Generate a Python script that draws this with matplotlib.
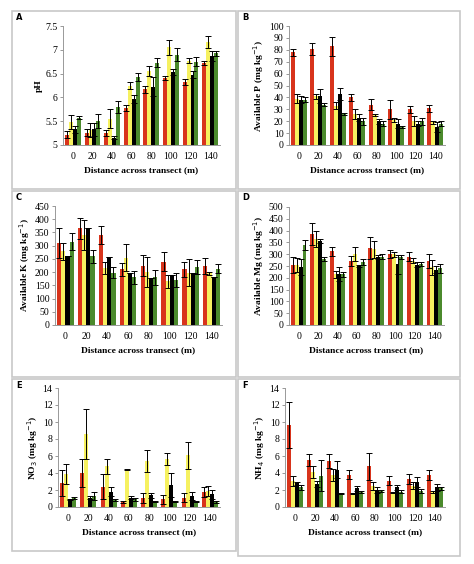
import numpy as np
import matplotlib
matplotlib.use("Agg")
import matplotlib.pyplot as plt
from matplotlib.patches import Rectangle

plt.rcParams["font.family"] = ["Liberation Serif", "DejaVu Serif"]

distances = ["0", "20", "40", "60", "80", "100", "120", "140"]
series_colors = ["#d8341c", "#f6f160", "#000000", "#4b8a2c"]

# pH
ph_red = [5.22, 5.26, 5.25, 5.78, 6.17, 6.40, 6.33, 6.73]
ph_yellow = [5.48, 5.32, 5.55, 6.25, 6.55, 7.05, 6.77, 7.17]
ph_black = [5.33, 5.33, 5.15, 5.97, 6.22, 6.53, 6.48, 6.87]
ph_green = [5.57, 5.50, 5.80, 6.43, 6.73, 6.90, 6.75, 6.93]
ph_red_err = [0.08, 0.08, 0.06, 0.06, 0.07, 0.04, 0.06, 0.04]
ph_yellow_err = [0.15, 0.15, 0.20, 0.07, 0.10, 0.15, 0.05, 0.13]
ph_black_err = [0.07, 0.14, 0.03, 0.08, 0.20, 0.06, 0.08, 0.10]
ph_green_err = [0.03, 0.15, 0.13, 0.09, 0.10, 0.13, 0.10, 0.05]

# Available P
p_red = [78, 81, 83, 40, 34, 30, 30, 31]
p_yellow = [39, 41, 33, 26, 25, 21, 20, 19]
p_black = [38, 41, 43, 23, 20, 18, 18, 15]
p_green = [38, 34, 26, 20, 18, 15, 20, 18]
p_red_err = [3, 5, 8, 3, 5, 8, 3, 3]
p_yellow_err = [4, 2, 3, 4, 1, 2, 4, 1]
p_black_err = [3, 6, 5, 3, 2, 4, 2, 4]
p_green_err = [2, 1, 1, 3, 2, 1, 3, 2]

# Available K
k_red = [310, 365, 340, 210, 225, 240, 210, 222]
k_yellow = [278, 340, 215, 255, 200, 165, 198, 195]
k_black = [262, 368, 258, 198, 176, 188, 195, 183]
k_green = [315, 260, 198, 180, 180, 170, 220, 213]
k_red_err = [55, 40, 35, 25, 40, 37, 27, 30]
k_yellow_err = [32, 57, 22, 50, 57, 25, 50, 5]
k_black_err = [0, 0, 0, 0, 0, 0, 0, 0]
k_green_err = [32, 25, 22, 25, 27, 25, 27, 18]

# Available Mg
mg_red = [255, 385, 312, 272, 325, 300, 290, 270]
mg_yellow = [255, 365, 215, 300, 320, 300, 272, 245]
mg_black = [245, 355, 215, 250, 288, 258, 255, 235]
mg_green = [338, 280, 215, 268, 290, 288, 260, 240]
mg_red_err = [35, 48, 20, 20, 47, 18, 20, 30]
mg_yellow_err = [30, 35, 15, 30, 35, 10, 10, 32]
mg_black_err = [35, 8, 30, 5, 10, 40, 10, 15]
mg_green_err = [22, 8, 10, 12, 10, 10, 8, 18]

# NO3
no3_red = [2.8, 4.0, 2.4, 0.6, 1.1, 0.9, 1.1, 1.8]
no3_yellow = [3.9, 8.6, 4.8, 4.4, 5.4, 5.6, 6.1, 1.9]
no3_black = [0.9, 1.1, 1.8, 1.1, 1.4, 2.6, 1.3, 1.5]
no3_green = [1.1, 1.3, 0.8, 0.9, 0.6, 0.6, 0.6, 0.6]
no3_red_err = [1.5, 1.6, 1.5, 0.15, 0.6, 0.5, 0.5, 0.6]
no3_yellow_err = [1.2, 2.9, 0.9, 0.05, 1.3, 0.7, 1.6, 0.6]
no3_black_err = [0.1, 0.2, 0.5, 0.2, 0.3, 1.4, 0.5, 0.5]
no3_green_err = [0.1, 0.5, 0.1, 0.2, 0.05, 0.05, 0.05, 0.1]

# NH4
nh4_red = [9.6, 5.5, 5.4, 3.8, 4.8, 3.1, 3.3, 3.8]
nh4_yellow = [3.1, 4.1, 3.8, 1.6, 2.5, 1.7, 2.5, 1.8]
nh4_black = [2.8, 2.7, 4.4, 2.2, 2.0, 2.3, 2.9, 2.3]
nh4_green = [2.3, 3.7, 1.6, 1.8, 1.9, 1.8, 1.9, 2.2]
nh4_red_err = [2.7, 0.7, 0.8, 0.5, 1.6, 0.5, 0.6, 0.6]
nh4_yellow_err = [0.6, 0.7, 0.7, 0.05, 0.5, 0.1, 0.4, 0.1]
nh4_black_err = [0.2, 0.4, 1.0, 0.3, 0.3, 0.3, 0.6, 0.4]
nh4_green_err = [0.3, 1.8, 0.05, 0.1, 0.1, 0.2, 0.2, 0.2]

panels = [
    ("A", "pH", (ph_red, ph_yellow, ph_black, ph_green),
     (ph_red_err, ph_yellow_err, ph_black_err, ph_green_err), (5, 7.5), 0.5),
    ("B", "Available P (mg kg$^{-1}$)", (p_red, p_yellow, p_black, p_green),
     (p_red_err, p_yellow_err, p_black_err, p_green_err), (0, 100), 10),
    ("C", "Available K (mg kg$^{-1}$)", (k_red, k_yellow, k_black, k_green),
     (k_red_err, k_yellow_err, k_black_err, k_green_err), (0, 450), 50),
    ("D", "Available Mg (mg kg$^{-1}$)", (mg_red, mg_yellow, mg_black, mg_green),
     (mg_red_err, mg_yellow_err, mg_black_err, mg_green_err), (0, 500), 50),
    ("E", "NO$_3$ (mg kg$^{-1}$)", (no3_red, no3_yellow, no3_black, no3_green),
     (no3_red_err, no3_yellow_err, no3_black_err, no3_green_err), (0, 14), 2),
    ("F", "NH$_4$ (mg kg$^{-1}$)", (nh4_red, nh4_yellow, nh4_black, nh4_green),
     (nh4_red_err, nh4_yellow_err, nh4_black_err, nh4_green_err), (0, 14), 2),
]

W, H = 474, 564
fig = plt.figure(figsize=(W / 100, H / 100), dpi=100)

# pixel boxes: (box_left, box_top, box_right, box_bottom), (ax_left, ax_top, ax_right, ax_bottom)
layout = [
    ((12, 11, 236, 189), (63, 26, 220, 145)),
    ((238, 11, 460, 189), (289, 26, 445, 145)),
    ((12, 191, 236, 377), (55, 206, 222, 325)),
    ((238, 191, 460, 377), (289, 207, 444, 325)),
    ((12, 379, 236, 551), (58, 388, 220, 507)),
    ((238, 379, 460, 556), (285, 388, 445, 507)),
]

x = np.arange(len(distances))
width = 0.2

for (letter, ylabel, vals, errs, ylim, step), (box, axp) in zip(panels, layout):
    bl, bt, br, bb = box
    fig.patches.append(Rectangle((bl / W, 1 - bb / H), (br - bl) / W, (bb - bt) / H,
                                 transform=fig.transFigure, fill=False,
                                 edgecolor="#c8c8c8", linewidth=1.2))
    fig.text((bl + 4) / W, 1 - (bt + 9) / H, letter, fontsize=6, fontweight="bold",
             family="DejaVu Sans")
    al, at, ar, ab = axp
    ax = fig.add_axes([al / W, 1 - ab / H, (ar - al) / W, (ab - at) / H])
    for i in range(4):
        pos = x + (i - 1.5) * width
        ax.bar(pos, vals[i], width, bottom=0, color=series_colors[i], zorder=2)
        ax.errorbar(pos, vals[i], yerr=errs[i], fmt="none", ecolor="black",
                    elinewidth=0.7, capsize=2.5, capthick=0.7, zorder=3)
    ax.set_ylim(*ylim)
    ax.set_xlim(-0.5, len(distances) - 0.5)
    ax.set_yticks(np.arange(ylim[0], ylim[1] + step / 2, step))
    if step == 0.5:
        ax.set_yticklabels([("%g" % v) for v in np.arange(ylim[0], ylim[1] + 0.25, 0.5)])
    ax.set_xticks(x)
    ax.set_xticklabels(distances)
    ax.tick_params(axis="both", labelsize=7, length=2, width=0.6, color="#888888", pad=2)
    ax.tick_params(axis="x", length=0, pad=5)
    for s in ["top", "right"]:
        ax.spines[s].set_visible(False)
    for s in ["left", "bottom"]:
        ax.spines[s].set_color("#999999")
        ax.spines[s].set_linewidth(0.7)
    ax.set_ylabel(ylabel, fontsize=6.8, fontweight="bold", labelpad=2)
    ax.set_xlabel("Distance across transect (m)", fontsize=6.8, fontweight="bold", labelpad=4)

fig.savefig("out.png", dpi=100)
